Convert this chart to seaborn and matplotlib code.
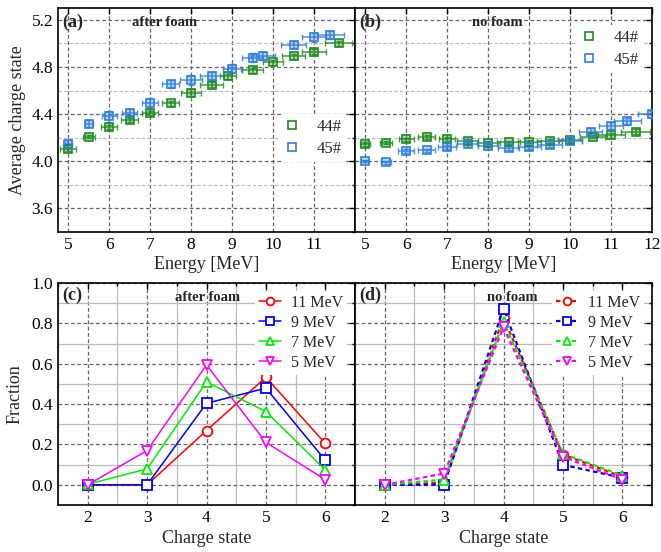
import numpy as np
import pandas as pd
import matplotlib
matplotlib.use("Agg")
import matplotlib.pyplot as plt
import seaborn as sns
from matplotlib.ticker import MultipleLocator

sns.set_theme(style="white")
plt.rcParams['font.family'] = ['Liberation Serif', 'DejaVu Serif']
plt.rcParams['mathtext.fontset'] = 'stix'

# ---------------- data: top panels ----------------
a44_x = [5.0, 5.5, 6.0, 6.5, 7.0, 7.5, 8.0, 8.5, 8.9, 9.5, 10.0, 10.5, 11.0, 11.6]
a44_y = [4.10, 4.21, 4.29, 4.35, 4.41, 4.49, 4.58, 4.65, 4.72, 4.77, 4.84, 4.89, 4.93, 5.00]
a44_xe = [0.2, 0.15, 0.2, 0.2, 0.2, 0.2, 0.25, 0.28, 0.2, 0.25, 0.25, 0.28, 0.3, 0.33]
a44_ye = [0.015, 0.015, 0.02, 0.02, 0.02, 0.02, 0.03, 0.02, 0.02, 0.02, 0.02, 0.02, 0.02, 0.02]

a45_x = [5.0, 5.5, 6.0, 6.5, 7.0, 7.5, 8.0, 8.5, 9.0, 9.5, 9.75, 10.5, 11.0, 11.4]
a45_y = [4.15, 4.32, 4.38, 4.41, 4.49, 4.655, 4.69, 4.72, 4.785, 4.88, 4.89, 4.99, 5.05, 5.07]
a45_xe = [0.08, 0.1, 0.18, 0.18, 0.2, 0.2, 0.26, 0.28, 0.22, 0.25, 0.3, 0.3, 0.3, 0.33]
a45_ye = [0.03, 0.03, 0.045, 0.035, 0.05, 0.035, 0.04, 0.035, 0.04, 0.04, 0.035, 0.03, 0.04, 0.035]

b44_x = [5.0, 5.5, 6.0, 6.5, 7.0, 7.5, 8.0, 8.5, 9.0, 9.5, 10.0, 10.55, 11.0, 11.6]
b44_y = [4.147, 4.158, 4.186, 4.206, 4.19, 4.17, 4.158, 4.16, 4.167, 4.17, 4.18, 4.21, 4.22, 4.25]
b44_xe = [0.12, 0.15, 0.18, 0.2, 0.2, 0.25, 0.28, 0.28, 0.28, 0.3, 0.3, 0.3, 0.33, 0.35]
b44_ye = [0.015, 0.015, 0.015, 0.02, 0.02, 0.02, 0.015, 0.015, 0.015, 0.015, 0.015, 0.015, 0.02, 0.02]

b45_x = [5.0, 5.5, 6.0, 6.5, 7.0, 7.5, 8.0, 8.5, 9.0, 9.5, 10.0, 10.5, 11.0, 11.4, 12.0]
b45_y = [4.00, 3.99, 4.088, 4.093, 4.12, 4.144, 4.127, 4.116, 4.12, 4.138, 4.17, 4.25, 4.30, 4.34, 4.40]
b45_xe = [0.1, 0.12, 0.2, 0.2, 0.22, 0.25, 0.25, 0.25, 0.28, 0.3, 0.28, 0.28, 0.3, 0.33, 0.35]
b45_ye = [0.01, 0.01, 0.015, 0.015, 0.02, 0.02, 0.02, 0.02, 0.02, 0.02, 0.02, 0.03, 0.03, 0.03, 0.03]

# ---------------- data: bottom panels ----------------
charge = [2, 3, 4, 5, 6]
energies = ["11 MeV", "9 MeV", "7 MeV", "5 MeV"]
c_11 = [0.0, 0.0, 0.269, 0.533, 0.205]
c_9 = [0.0, 0.0, 0.404, 0.479, 0.122]
c_7 = [0.003, 0.079, 0.51, 0.363, 0.074]
c_5 = [0.0, 0.17, 0.594, 0.21, 0.026]
d_11 = [0.0, 0.01, 0.827, 0.15, 0.04]
d_9 = [0.0, 0.0, 0.873, 0.099, 0.035]
d_7 = [0.0, 0.026, 0.807, 0.155, 0.046]
d_5 = [0.0, 0.056, 0.78, 0.139, 0.026]

green = "#1e8c1e"
blue = "#2f7fe0"
line_colors = ["#ff0000", "#0000ff", "#00ee00", "#ff00ff"]
line_markers = ["o", "s", "^", "v"]

fig = plt.figure(figsize=(6.61, 5.52), dpi=100)
W, H = 661, 552
def rect(l, t, r, b):
    return [l / W, 1 - b / H, (r - l) / W, (b - t) / H]

ax_a = fig.add_axes(rect(58, 8, 355, 232))
ax_b = fig.add_axes(rect(355, 8, 652, 232))
ax_c = fig.add_axes(rect(58, 283, 355, 505))
ax_d = fig.add_axes(rect(355, 283, 652, 505))

tick_fs = 12.5
lab_fs = 13

def style_axes(ax):
    for s in ax.spines.values():
        s.set_color("black")
        s.set_linewidth(1.2)
    ax.tick_params(which="both", direction="in", top=True, right=True,
                   labelsize=tick_fs, colors="black", length=4, width=1)
    ax.tick_params(which="minor", length=2.5)

def top_panel(ax, s44, s45, label, text, legloc, legbbox):
    ax.set_xlim(4.75, 12.0)
    ax.set_ylim(3.4, 5.3)
    ax.xaxis.set_major_locator(MultipleLocator(1))
    ax.yaxis.set_major_locator(MultipleLocator(0.4))
    ax.yaxis.set_minor_locator(MultipleLocator(0.2))
    ax.grid(True, which="major", axis="both", ls=(0, (3, 2)), color="#666666", lw=0.9)
    ax.grid(True, which="minor", axis="y", ls=(0, (3, 2)), color="#b8b8b8", lw=0.8)
    ax.set_axisbelow(True)
    for (x, y, xe, ye), col, name in [(s44, green, "44#"), (s45, blue, "45#")]:
        ax.errorbar(x, y, xerr=xe, yerr=ye, fmt="none", ecolor=col,
                    elinewidth=1.1, capsize=2.5, capthick=1.0, alpha=0.85, zorder=3)
        df = pd.DataFrame({"x": x, "y": y})
        sns.scatterplot(data=df, x="x", y="y", ax=ax, marker="s", s=30,
                        facecolor=col, edgecolor=col, alpha=0.3, linewidth=0, zorder=4)
        ax.plot(x, y, ls="none", marker="s", ms=5.5, mfc="none", mec=col, mew=1.2,
                zorder=5, label=name)
    style_axes(ax)
    ax.text(0.015, 0.975, label, transform=ax.transAxes, ha="left", va="top",
            fontsize=13, fontweight="bold")
    ax.text(text[0], 0.965, text[1], transform=ax.transAxes, ha="center", va="top",
            fontsize=10.5, fontweight="bold")
    ax.legend(loc=legloc, bbox_to_anchor=legbbox, frameon=True, fontsize=12,
              handlelength=0.8, handletextpad=1.1, labelspacing=0.35,
              borderpad=0.3, edgecolor="none", facecolor="white", framealpha=1)
    ax.set_xlabel("Energy [MeV]", fontsize=lab_fs, labelpad=2)

top_panel(ax_a, (a44_x, a44_y, a44_xe, a44_ye), (a45_x, a45_y, a45_xe, a45_ye),
          "(a)", (0.36, "after foam"), "center right", (1.0, 0.42))
top_panel(ax_b, (b44_x, b44_y, b44_xe, b44_ye), (b45_x, b45_y, b45_xe, b45_ye),
          "(b)", (0.48, "no foam"), "upper right", (1.0, 0.96))
ax_a.set_ylabel("Average charge state", fontsize=lab_fs, labelpad=4)
ax_a.set_xticks([5, 6, 7, 8, 9, 10, 11])
ax_b.set_xticks([5, 6, 7, 8, 9, 10, 11, 12])
ax_b.tick_params(labelleft=False)
ax_b.set_ylabel("")

def bottom_panel(ax, series, label, text, dashed):
    ax.set_xlim(1.5, 6.5)
    ax.set_ylim(-0.1, 1.0)
    ax.xaxis.set_major_locator(MultipleLocator(1))
    ax.xaxis.set_minor_locator(MultipleLocator(0.5))
    ax.yaxis.set_major_locator(MultipleLocator(0.2))
    ax.yaxis.set_minor_locator(MultipleLocator(0.1))
    ax.grid(True, which="minor", axis="both", ls="-", color="#bbbbbb", lw=0.9)
    ax.grid(True, which="major", axis="both", ls=(0, (3, 2)), color="#666666", lw=0.9)
    ax.set_axisbelow(True)
    for vals, name, col, mk in zip(series, energies, line_colors, line_markers):
        df = pd.DataFrame({"Charge state": charge, "Fraction": vals})
        sns.lineplot(data=df, x="Charge state", y="Fraction", ax=ax, color=col,
                     marker=mk, markersize=7, markerfacecolor="white",
                     markeredgecolor=col, markeredgewidth=1.3,
                     lw=1.6 if dashed else 1.1,
                     ls=(0, (2, 1.5)) if dashed else "-", label=name, zorder=3)
    style_axes(ax)
    ax.text(0.015, 0.985, label, transform=ax.transAxes, ha="left", va="top",
            fontsize=13, fontweight="bold")
    ax.text(text[0], 0.965, text[1], transform=ax.transAxes, ha="center", va="top",
            fontsize=10.5, fontweight="bold")
    ax.legend(loc="upper right", bbox_to_anchor=(1.0, 1.0), frameon=True, fontsize=11.5,
              handlelength=1.4, handletextpad=0.6, labelspacing=0.25, markerscale=0.8,
              borderpad=0.25, edgecolor="none", facecolor="white", framealpha=1)
    ax.set_xlabel("Charge state", fontsize=lab_fs, labelpad=3)

bottom_panel(ax_c, [c_11, c_9, c_7, c_5], "(c)", (0.505, "after foam"), False)
bottom_panel(ax_d, [d_11, d_9, d_7, d_5], "(d)", (0.53, "no foam"), True)
ax_c.set_ylabel("Fraction", fontsize=lab_fs, labelpad=6)
ax_d.set_ylabel("")
ax_d.tick_params(labelleft=False)

fig.savefig("out.png", dpi=100)
